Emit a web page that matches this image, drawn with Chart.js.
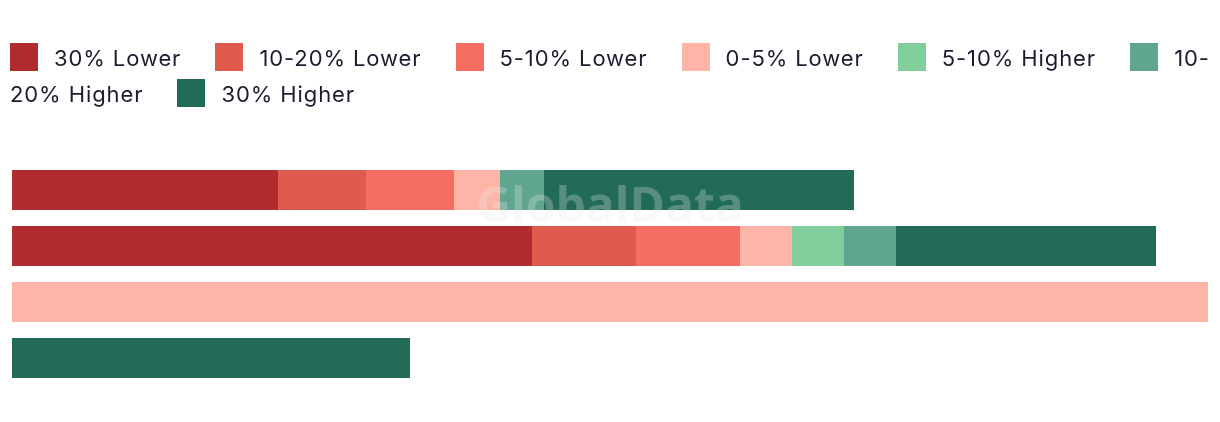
<!DOCTYPE html>
<html>
<head>
<meta charset="utf-8">
<script src="https://cdn.jsdelivr.net/npm/chart.js@4/dist/chart.umd.min.js"></script>
<style>
  html, body { margin: 0; padding: 0; background: #ffffff; }
  #wrap { position: relative; width: 1220px; height: 422px; }
  #chart { position: absolute; left: 0; top: 0; }
  #legend {
    position: absolute; left: 10px; top: 40px; width: 1207px;
    font-family: Inter, "Open Sans", sans-serif; font-size: 22px; line-height: 36px;
    letter-spacing: 0.9px;
    color: #1c1c30;
  }
  #legend .sw { display: inline-block; width: 28px; height: 28px; vertical-align: -5px; margin-right: 16px; }
  #legend .lab { margin-right: 27px; }
</style>
</head>
<body>
<div id="wrap">
  <canvas id="chart" width="1220" height="422"></canvas>
  <div id="legend"></div>
</div>
<script>
const categories = ["Row 1", "Row 2", "Row 3", "Row 4"];
const seriesNames = ["30% Lower", "10-20% Lower", "5-10% Lower", "0-5% Lower", "5-10% Higher", "10-20% Higher", "30% Higher"];
const seriesColors = ["#b02c2f", "#e05a4e", "#f56e61", "#feb5a7", "#7fce9b", "#60a58f", "#226b57"];
const lower30   = [66.5, 130, 0, 0];
const lower1020 = [22, 26, 0, 0];
const lower510  = [22, 26, 0, 0];
const lower05   = [11.5, 13, 299, 0];
const higher510 = [0, 13, 0, 0];
const higher1020= [11, 13, 0, 0];
const higher30  = [77.5, 65, 0, 99.5];
const seriesValues = [lower30, lower1020, lower510, lower05, higher510, higher1020, higher30];

// HTML legend (allows a line break after a hyphen, like the original)
const legend = document.getElementById('legend');
seriesNames.forEach((n, i) => {
  const sw = document.createElement('span');
  sw.className = 'sw';
  sw.style.background = seriesColors[i];
  const lab = document.createElement('span');
  lab.className = 'lab';
  lab.textContent = n.replace('-', '-\u200B');
  legend.appendChild(sw);
  legend.appendChild(lab);
  legend.appendChild(document.createTextNode(' '));
});

const watermark = {
  id: 'watermark',
  afterDatasetsDraw(chart) {
    const ctx = chart.ctx;
    ctx.save();
    ctx.font = 'bold 48px "Open Sans", sans-serif';
    ctx.fillStyle = 'rgba(235,235,235,0.28)';
    ctx.textAlign = 'center';
    ctx.textBaseline = 'middle';
    ctx.fillText('GlobalData', 610, 208);
    ctx.restore();
  }
};

new Chart(document.getElementById('chart'), {
  type: 'bar',
  data: {
    labels: categories,
    datasets: seriesNames.map((n, i) => ({
      label: n,
      data: seriesValues[i],
      backgroundColor: seriesColors[i],
      borderWidth: 0,
      barPercentage: 40 / 56,
      categoryPercentage: 1
    }))
  },
  options: {
    indexAxis: 'y',
    responsive: false,
    animation: false,
    layout: { padding: { left: 12, right: 12, top: 162, bottom: 36 } },
    plugins: { legend: { display: false }, tooltip: { enabled: false } },
    scales: {
      x: { stacked: true, display: false, min: 0, max: 299 },
      y: { stacked: true, display: false }
    }
  },
  plugins: [watermark]
});
</script>
</body>
</html>
